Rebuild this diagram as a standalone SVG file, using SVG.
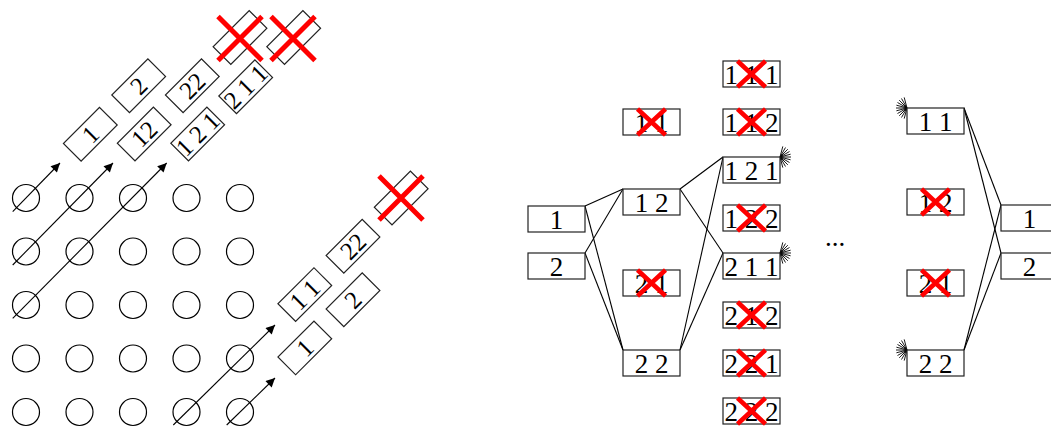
<svg xmlns="http://www.w3.org/2000/svg" xmlns:xlink="http://www.w3.org/1999/xlink" width="1051" height="428" viewBox="0 0 1051 428">
  <style>
    .dot { fill: none; stroke: #000; stroke-width: 1.2; }
    .box { fill: #fff; stroke: #222; stroke-width: 1.2; }
    text { font-family: 'Liberation Serif', 'Times New Roman', 'DejaVu Serif', serif; fill: #000; text-anchor: middle; }
    .lbl-s { font-size: 25px; }
    .lbl-b { font-size: 27px; }
    .wire { stroke: #000; stroke-width: 1.1; fill: none; }
    .cross { stroke: #ff0000; stroke-width: 5; stroke-linecap: butt; }
    .cross-s { stroke: #ff0000; stroke-width: 4.5; }
    .burst { stroke: #000; stroke-width: 0.9; fill: none; }
  </style>
  <defs>
    <marker id="head" viewBox="0 0 10 10" refX="10" refY="5" markerWidth="10" markerHeight="9" markerUnits="userSpaceOnUse" orient="auto">
      <path d="M0,0 L10,5 L0,10 z" fill="#000"/>
    </marker>
    <!-- fan of short rays pointing to +x from the origin -->
    <path id="rays" class="burst" d="M0,0 l2.8,-10.6 M0,0 l5.5,-9.5 M0,0 l7.8,-7.8 M0,0 l9.5,-5.5 M0,0 l10.6,-2.8 M0,0 l11,0 M0,0 l10.6,2.8 M0,0 l9.5,5.5 M0,0 l7.8,7.8 M0,0 l5.5,9.5 M0,0 l2.8,10.6"/>
    <!-- large X for the slanted boxes -->
    <path id="xbig" class="cross" d="M-22,-22 L22,22 M-22,22 L22,-22"/>
    <!-- small X for the upright boxes -->
    <path id="xsmall" class="cross-s" d="M-14,-13 L14,13 M-14,13 L14,-13"/>
  </defs>

  <!-- 5x5 grid of cells -->
  <g id="grid">
    <circle class="dot" cx="26" cy="198" r="13.5"/><circle class="dot" cx="79.5" cy="198" r="13.5"/><circle class="dot" cx="133" cy="198" r="13.5"/><circle class="dot" cx="186.5" cy="198" r="13.5"/><circle class="dot" cx="240" cy="198" r="13.5"/>
    <circle class="dot" cx="26" cy="251.5" r="13.5"/><circle class="dot" cx="79.5" cy="251.5" r="13.5"/><circle class="dot" cx="133" cy="251.5" r="13.5"/><circle class="dot" cx="186.5" cy="251.5" r="13.5"/><circle class="dot" cx="240" cy="251.5" r="13.5"/>
    <circle class="dot" cx="26" cy="305" r="13.5"/><circle class="dot" cx="79.5" cy="305" r="13.5"/><circle class="dot" cx="133" cy="305" r="13.5"/><circle class="dot" cx="186.5" cy="305" r="13.5"/><circle class="dot" cx="240" cy="305" r="13.5"/>
    <circle class="dot" cx="26" cy="358.5" r="13.5"/><circle class="dot" cx="79.5" cy="358.5" r="13.5"/><circle class="dot" cx="133" cy="358.5" r="13.5"/><circle class="dot" cx="186.5" cy="358.5" r="13.5"/><circle class="dot" cx="240" cy="358.5" r="13.5"/>
    <circle class="dot" cx="26" cy="412" r="13.5"/><circle class="dot" cx="79.5" cy="412" r="13.5"/><circle class="dot" cx="133" cy="412" r="13.5"/><circle class="dot" cx="186.5" cy="412" r="13.5"/><circle class="dot" cx="240" cy="412" r="13.5"/>
  </g>

  <!-- diagonal arrows through the grid -->
  <g id="diagonals">
    <line class="wire" x1="12.7" y1="211.7" x2="60" y2="163" marker-end="url(#head)"/>
    <line class="wire" x1="12.7" y1="265" x2="113" y2="163" marker-end="url(#head)"/>
    <line class="wire" x1="12.7" y1="318.3" x2="166.7" y2="163" marker-end="url(#head)"/>
    <line class="wire" x1="173.3" y1="425" x2="275" y2="325" marker-end="url(#head)"/>
    <line class="wire" x1="226.7" y1="425" x2="275" y2="378" marker-end="url(#head)"/>
  </g>

  <g font-family="Liberation Serif, Times New Roman, serif">
  <!-- upper slanted sequence boxes -->
  <g id="s-1" transform="translate(90.3,134.3) rotate(-45)"><rect class="box" x="-25.5" y="-12.5" width="51" height="25"/><text class="lbl-s" y="8.5">1</text></g>
  <g id="s-12" transform="translate(144.2,134) rotate(-45)"><rect class="box" x="-25.5" y="-12.5" width="51" height="25"/><text class="lbl-s" y="8.5">12</text></g>
  <g id="s-121" transform="translate(197.7,134) rotate(-45)"><rect class="box" x="-25.5" y="-12.5" width="51" height="25"/><text class="lbl-s" y="8.5">1 2 1</text></g>
  <g id="s-2" transform="translate(138.7,85.8) rotate(-45)"><rect class="box" x="-25.5" y="-12.5" width="51" height="25"/><text class="lbl-s" y="8.5">2</text></g>
  <g id="s-22" transform="translate(192.3,85.8) rotate(-45)"><rect class="box" x="-25.5" y="-12.5" width="51" height="25"/><text class="lbl-s" y="8.5">22</text></g>
  <g id="s-211" transform="translate(245.7,86.7) rotate(-45)"><rect class="box" x="-25.5" y="-12.5" width="51" height="25"/><text class="lbl-s" y="8.5">2 1 1</text></g>
  <g id="s-x1"><rect class="box" x="-25.5" y="-12.5" width="51" height="25" transform="translate(240,37.5) rotate(-45)"/><use xlink:href="#xbig" href="#xbig" x="240" y="38.5"/></g>
  <g id="s-x2"><rect class="box" x="-25.5" y="-12.5" width="51" height="25" transform="translate(293.7,37.5) rotate(-45)"/><use xlink:href="#xbig" href="#xbig" x="293" y="38.5"/></g>

  <!-- lower slanted sequence boxes -->
  <g id="t-1" transform="translate(304.8,347.9) rotate(-45)"><rect class="box" x="-25.5" y="-12.5" width="51" height="25"/><text class="lbl-s" y="8.5">1</text></g>
  <g id="t-11" transform="translate(304.8,294.6) rotate(-45)"><rect class="box" x="-25.5" y="-12.5" width="51" height="25"/><text class="lbl-s" y="8.5">1 1</text></g>
  <g id="t-2" transform="translate(353,299.7) rotate(-45)"><rect class="box" x="-25.5" y="-12.5" width="51" height="25"/><text class="lbl-s" y="8.5">2</text></g>
  <g id="t-22" transform="translate(353,246.3) rotate(-45)"><rect class="box" x="-25.5" y="-12.5" width="51" height="25"/><text class="lbl-s" y="8.5">22</text></g>
  <g id="t-x"><rect class="box" x="-25.5" y="-12.5" width="51" height="25" transform="translate(401.2,198) rotate(-45)"/><use xlink:href="#xbig" href="#xbig" x="401" y="198"/></g>

  <!-- connectors of the sequence tree -->
  <g id="connectors">
    <line class="wire" x1="585" y1="206" x2="623" y2="189"/>
    <line class="wire" x1="585" y1="206" x2="623" y2="350"/>
    <line class="wire" x1="585" y1="253" x2="623" y2="189"/>
    <line class="wire" x1="585" y1="253" x2="623" y2="350"/>
    <line class="wire" x1="680" y1="189" x2="723" y2="157"/>
    <line class="wire" x1="680" y1="189" x2="723" y2="253"/>
    <line class="wire" x1="680" y1="350" x2="723" y2="157"/>
    <line class="wire" x1="680" y1="350" x2="723" y2="253"/>
    <line class="wire" x1="964" y1="108" x2="1001" y2="205"/>
    <line class="wire" x1="964" y1="108" x2="1001" y2="253"/>
    <line class="wire" x1="964" y1="350" x2="1001" y2="205"/>
    <line class="wire" x1="964" y1="350" x2="1001" y2="253"/>
    <use xlink:href="#rays" href="#rays" transform="translate(780,157)"/>
    <use xlink:href="#rays" href="#rays" transform="translate(780,253)"/>
    <use xlink:href="#rays" href="#rays" transform="translate(907,108) scale(-1,1)"/>
    <use xlink:href="#rays" href="#rays" transform="translate(907,350) scale(-1,1)"/>
  </g>

  <!-- column 1 -->
  <g id="n-1"><rect class="box" x="528" y="206" width="57" height="26"/><text class="lbl-b" x="556.5" y="228.5">1</text></g>
  <g id="n-2"><rect class="box" x="528" y="253" width="57" height="26"/><text class="lbl-b" x="556.5" y="275.5">2</text></g>

  <!-- column 2 -->
  <g id="n-11"><rect class="box" x="623" y="109" width="57" height="26"/><text class="lbl-b" x="651.5" y="131.5">1 1</text><use xlink:href="#xsmall" href="#xsmall" x="651.5" y="122"/></g>
  <g id="n-12"><rect class="box" x="623" y="189" width="57" height="26"/><text class="lbl-b" x="651.5" y="211.5">1 2</text></g>
  <g id="n-21"><rect class="box" x="623" y="270" width="57" height="26"/><text class="lbl-b" x="651.5" y="292.5">2 1</text><use xlink:href="#xsmall" href="#xsmall" x="651.5" y="283"/></g>
  <g id="n-22"><rect class="box" x="623" y="350" width="57" height="26"/><text class="lbl-b" x="651.5" y="372.5">2 2</text></g>

  <!-- column 3 -->
  <g id="n-111"><rect class="box" x="723" y="61" width="57" height="26"/><text class="lbl-b" x="751.5" y="83.5">1 1 1</text><use xlink:href="#xsmall" href="#xsmall" x="751.5" y="74"/></g>
  <g id="n-112"><rect class="box" x="723" y="109" width="57" height="26"/><text class="lbl-b" x="751.5" y="131.5">1 1 2</text><use xlink:href="#xsmall" href="#xsmall" x="751.5" y="122"/></g>
  <g id="n-121"><rect class="box" x="723" y="157" width="57" height="26"/><text class="lbl-b" x="751.5" y="179.5">1 2 1</text></g>
  <g id="n-122"><rect class="box" x="723" y="205" width="57" height="26"/><text class="lbl-b" x="751.5" y="227.5">1 2 2</text><use xlink:href="#xsmall" href="#xsmall" x="751.5" y="218"/></g>
  <g id="n-211"><rect class="box" x="723" y="253" width="57" height="26"/><text class="lbl-b" x="751.5" y="275.5">2 1 1</text></g>
  <g id="n-212"><rect class="box" x="723" y="302" width="57" height="26"/><text class="lbl-b" x="751.5" y="324.5">2 1 2</text><use xlink:href="#xsmall" href="#xsmall" x="751.5" y="315"/></g>
  <g id="n-221"><rect class="box" x="723" y="350" width="57" height="26"/><text class="lbl-b" x="751.5" y="372.5">2 2 1</text><use xlink:href="#xsmall" href="#xsmall" x="751.5" y="363"/></g>
  <g id="n-222"><rect class="box" x="723" y="398" width="57" height="26"/><text class="lbl-b" x="751.5" y="420.5">2 2 2</text><use xlink:href="#xsmall" href="#xsmall" x="751.5" y="411"/></g>

  <text id="ellipsis" class="lbl-b" x="835" y="246">...</text>

  <!-- column 4 -->
  <g id="m-11"><rect class="box" x="907" y="108" width="57" height="26"/><text class="lbl-b" x="935.5" y="130.5">1 1</text></g>
  <g id="m-12"><rect class="box" x="907" y="189" width="57" height="26"/><text class="lbl-b" x="935.5" y="211.5">1 2</text><use xlink:href="#xsmall" href="#xsmall" x="935.5" y="202"/></g>
  <g id="m-21"><rect class="box" x="907" y="270" width="57" height="26"/><text class="lbl-b" x="935.5" y="292.5">2 1</text><use xlink:href="#xsmall" href="#xsmall" x="935.5" y="283"/></g>
  <g id="m-22"><rect class="box" x="907" y="350" width="57" height="26"/><text class="lbl-b" x="935.5" y="372.5">2 2</text></g>

  <!-- column 5 -->
  <g id="r-1"><rect class="box" x="1001" y="205" width="57" height="26"/><text class="lbl-b" x="1029.5" y="227.5">1</text></g>
  <g id="r-2"><rect class="box" x="1001" y="253" width="57" height="26"/><text class="lbl-b" x="1029.5" y="275.5">2</text></g>
  </g>
</svg>
